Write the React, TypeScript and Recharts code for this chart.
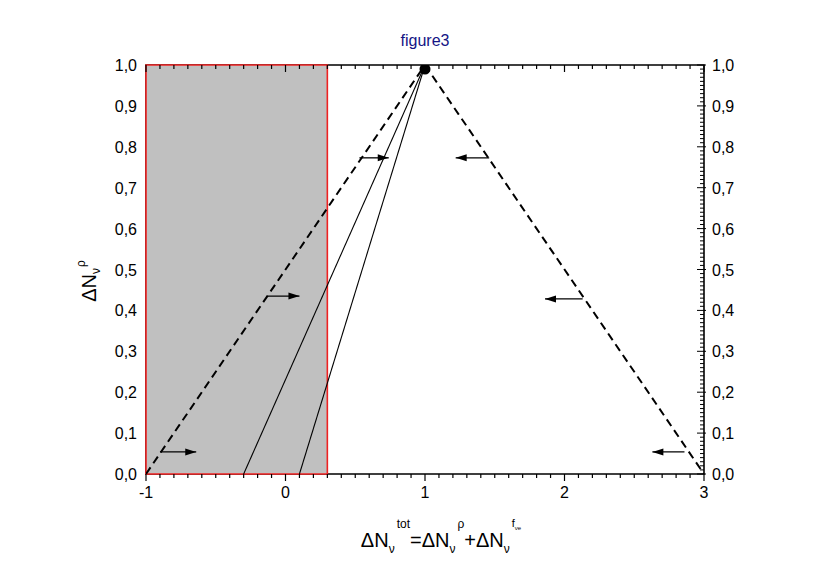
import React from 'react';
import { ComposedChart, Line, XAxis, YAxis, ReferenceArea, Scatter } from 'recharts';

// ---- data ----
const xMajorTicks = [-1, 0, 1, 2, 3];
const yMajorTicks = [0, 0.1, 0.2, 0.3, 0.4, 0.5, 0.6, 0.7, 0.8, 0.9, 1.0];
const shadeX = [-1, 0.3];
const shadeY = [0, 1];
const frameX = [-1, 3];
const frameY = [0, 1];
const dashedLeft = [{ x: -1, y: 0 }, { x: 1, y: 1 }];
const dashedRight = [{ x: 1, y: 1 }, { x: 3, y: 0 }];
const solidA = [{ x: -0.3, y: 0 }, { x: 1, y: 1 }];
const solidB = [{ x: 0.1, y: 0 }, { x: 1, y: 1 }];
const apex = [{ x: 1, y: 0.99 }];
const arrowStartX = [-0.9, -0.13, 0.53, 1.46, 2.13, 2.86];
const arrowEndX = [-0.64, 0.1, 0.74, 1.22, 1.86, 2.63];
const arrowY = [0.054, 0.435, 0.773, 0.773, 0.428, 0.054];

const xMinorTicks = Array.from({ length: 41 }, (_, i) => Math.round((-1 + i * 0.1) * 10) / 10);
const yMinorTicks = Array.from({ length: 101 }, (_, i) => Math.round(i) / 100);

const FONT = 'Liberation Sans, Arial, sans-serif';
const isMajor = (v: number, step: number) => Math.abs(v / step - Math.round(v / step)) < 1e-6;
const fmtY = (v: number) => v.toFixed(1).replace('.', ',');

const BottomTick = (p: any) => {
  const v = p.payload.value;
  const major = xMajorTicks.some((t) => Math.abs(t - v) < 1e-6);
  return (
    <g>
      <line x1={p.x} x2={p.x} y1={p.y} y2={p.y + (major ? 7 : 4)} stroke="#000" strokeWidth={1.2} />
      {major && (
        <text x={p.x} y={p.y + 24} textAnchor="middle" fontSize={16} fontFamily={FONT} fill="#000">
          {String(v)}
        </text>
      )}
    </g>
  );
};

const TopTick = (p: any) => {
  const v = p.payload.value;
  const major = isMajor(v, 1);
  return <line x1={p.x} x2={p.x} y1={p.y} y2={p.y + (major ? 7 : 4)} stroke="#000" strokeWidth={1.2} />;
};

const LeftTick = (p: any) => {
  const v = p.payload.value;
  return (
    <text x={p.x - 9} y={p.y + 6} textAnchor="end" fontSize={16} fontFamily={FONT} fill="#000">
      {fmtY(v)}
    </text>
  );
};

const RightTick = (p: any) => {
  const v = p.payload.value;
  const major = isMajor(v, 0.1);
  return (
    <g>
      <line x1={p.x + (major ? 2 : 0)} x2={p.x - (major ? 7 : 4)} y1={p.y} y2={p.y} stroke="#000" strokeWidth={1} />
      {major && (
        <text x={p.x + 8} y={p.y + 6} textAnchor="start" fontSize={16} fontFamily={FONT} fill="#000">
          {fmtY(v)}
        </text>
      )}
    </g>
  );
};

const makeArrowDot = (dir: number) => (p: any) => {
  if (p.index !== 1) return <g key={p.key} />;
  const L = 11;
  const H = 3.5;
  const tipX = p.cx;
  const baseX = p.cx - dir * L;
  return (
    <path
      key={p.key}
      d={`M${tipX},${p.cy} L${baseX},${p.cy - H} L${baseX},${p.cy + H} Z`}
      fill="#000"
      stroke="none"
    />
  );
};

export default function App() {
  return (
    <div style={{ position: 'absolute', left: 0, top: 0, width: 817, height: 569, background: '#fff' }}>
      <ComposedChart
        width={817}
        height={569}
        margin={{ top: 55, right: 73, bottom: 65, left: 106 }}
        style={{ fontFamily: FONT }}
      >
        <XAxis
          xAxisId={0}
          type="number"
          dataKey="x"
          domain={[-1, 3]}
          ticks={xMinorTicks}
          interval={0}
          tickLine={false}
          tickSize={0}
          tickMargin={0}
          height={30}
          axisLine={false}
          tick={<BottomTick />}
          allowDataOverflow
        />
        <XAxis
          xAxisId="top"
          orientation="top"
          type="number"
          dataKey="x"
          domain={[-1, 3]}
          ticks={xMinorTicks}
          interval={0}
          tickLine={false}
          tickSize={0}
          tickMargin={0}
          height={10}
          axisLine={false}
          tick={<TopTick />}
          allowDataOverflow
        />
        <YAxis
          yAxisId={0}
          type="number"
          domain={[0, 1]}
          ticks={yMajorTicks}
          interval={0}
          tickLine={false}
          tickSize={0}
          tickMargin={0}
          width={40}
          axisLine={false}
          tick={<LeftTick />}
          allowDataOverflow
        />
        <YAxis
          yAxisId="right"
          orientation="right"
          type="number"
          domain={[0, 1]}
          ticks={yMinorTicks}
          interval={0}
          tickLine={false}
          tickSize={0}
          tickMargin={0}
          width={40}
          axisLine={false}
          tick={<RightTick />}
          allowDataOverflow
        />
        <ReferenceArea
          x1={frameX[0]}
          x2={frameX[1]}
          y1={frameY[0]}
          y2={frameY[1]}
          fill="none"
          fillOpacity={0}
          stroke="#000"
          strokeWidth={1.6}
          ifOverflow="extendDomain"
        />
        <ReferenceArea
          x1={shadeX[0]}
          x2={shadeX[1]}
          y1={shadeY[0]}
          y2={shadeY[1]}
          fill="#c0c0c0"
          fillOpacity={1}
          stroke="#ee2222"
          strokeWidth={1.6}
          ifOverflow="extendDomain"
        />
        <Line data={dashedLeft} dataKey="y" stroke="#000" strokeWidth={2} strokeDasharray="8 5" dot={false} isAnimationActive={false} />
        <Line data={dashedRight} dataKey="y" stroke="#000" strokeWidth={2} strokeDasharray="8 5" dot={false} isAnimationActive={false} />
        <Line data={solidA} dataKey="y" stroke="#000" strokeWidth={1.1} dot={false} isAnimationActive={false} />
        <Line data={solidB} dataKey="y" stroke="#000" strokeWidth={1.1} dot={false} isAnimationActive={false} />
        {arrowY.map((y, i) => (
          <Line
            key={`arrow-${i}`}
            data={[{ x: arrowStartX[i], y }, { x: arrowEndX[i], y }]}
            dataKey="y"
            stroke="#000"
            strokeWidth={1.3}
            dot={makeArrowDot(arrowEndX[i] > arrowStartX[i] ? 1 : -1)}
            isAnimationActive={false}
          />
        ))}
        <Scatter
          data={apex}
          dataKey="y"
          isAnimationActive={false}
          shape={(p: any) => <circle cx={p.cx} cy={p.cy} r={5.5} fill="#000" />}
        />
      </ComposedChart>
      <svg
        width={817}
        height={569}
        style={{ position: 'absolute', left: 0, top: 0, pointerEvents: 'none' }}
        fontFamily={FONT}
      >
        <text x={425} y={46} textAnchor="middle" fontSize={16} fill="#141485">
          figure3
        </text>
        <text x={441} y={547} textAnchor="middle" fontSize={20} fill="#000">
          ΔN
          <tspan fontSize={12} dy={6}>ν</tspan>
          <tspan fontSize={12} dy={-25} dx={2}>tot</tspan>
          <tspan fontSize={20} dy={19}>=ΔN</tspan>
          <tspan fontSize={12} dy={6}>ν</tspan>
          <tspan fontSize={12} dy={-25} dx={2}>ρ</tspan>
          <tspan fontSize={20} dy={19}>+ΔN</tspan>
          <tspan fontSize={12} dy={6}>ν</tspan>
          <tspan fontSize={11} dy={-26} dx={2}>f</tspan>
          <tspan fontSize={6} dy={3}>νe</tspan>
        </text>
        <text transform="translate(96,281) rotate(-90)" textAnchor="middle" fontSize={20} fill="#000">
          ΔN
          <tspan fontSize={12} dy={4}>ν</tspan>
          <tspan fontSize={12} dy={-15} dx={1}>ρ</tspan>
        </text>
      </svg>
    </div>
  );
}
